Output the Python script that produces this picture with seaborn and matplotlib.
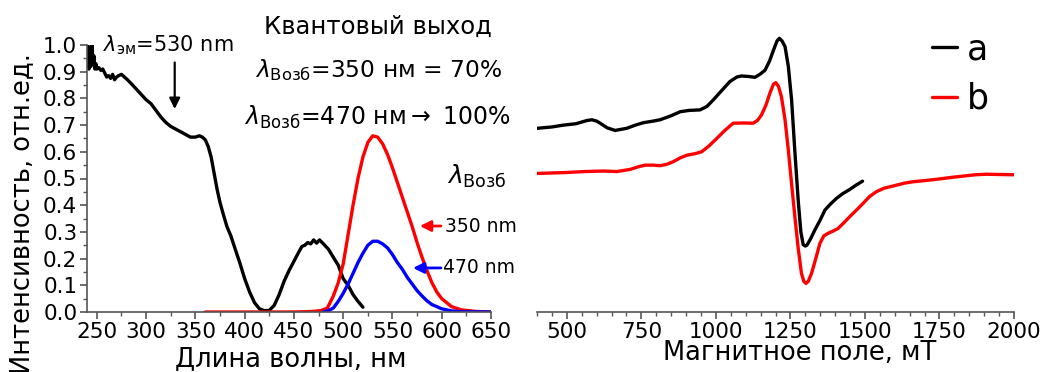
import numpy as np
import pandas as pd
import seaborn as sns
import matplotlib
matplotlib.use("Agg")
import matplotlib.pyplot as plt
from matplotlib.ticker import MultipleLocator

# ---------------- data: left panel (excitation / emission) ----------------
wl_exc = [241, 242, 243, 244, 245, 246, 247, 248, 249, 250, 252, 254, 256, 258, 260,
          262, 264, 266, 268, 270, 272, 275, 278, 281, 285, 290, 295, 300, 305, 310,
          315, 320, 325, 330, 335, 340, 345, 350, 354, 357, 360, 363, 366, 369, 372,
          375, 378, 382, 386, 390, 395, 400, 405, 410, 415, 420, 425, 430, 435, 440,
          445, 450, 455, 458, 461, 464, 467, 470, 473, 476, 480, 485, 490, 495, 500,
          505, 510, 515, 520]
int_exc = [1.0, 0.91, 0.99, 0.92, 1.0, 0.93, 0.96, 0.91, 0.93, 0.91, 0.915, 0.905, 0.91,
           0.895, 0.88, 0.885, 0.875, 0.89, 0.87, 0.88, 0.885, 0.89, 0.88, 0.87, 0.855,
           0.835, 0.815, 0.795, 0.78, 0.755, 0.73, 0.71, 0.695, 0.685, 0.675, 0.665,
           0.655, 0.655, 0.66, 0.655, 0.645, 0.62, 0.58, 0.52, 0.46, 0.41, 0.37, 0.32,
           0.285, 0.24, 0.185, 0.125, 0.075, 0.035, 0.012, 0.005, 0.006, 0.025, 0.065,
           0.115, 0.155, 0.19, 0.225, 0.245, 0.25, 0.26, 0.255, 0.27, 0.258, 0.27, 0.255,
           0.235, 0.205, 0.175, 0.125, 0.10, 0.065, 0.04, 0.018]

wl_em350 = [360, 400, 450, 470, 478, 484, 490, 495, 500, 505, 510, 515, 520, 525, 530,
            535, 540, 545, 550, 555, 560, 565, 570, 575, 580, 585, 590, 595, 600, 610,
            620, 635, 650]
int_em350 = [0.0, 0.0, 0.0, 0.002, 0.006, 0.015, 0.06, 0.11, 0.18, 0.29, 0.40, 0.50,
             0.58, 0.635, 0.66, 0.655, 0.63, 0.59, 0.54, 0.485, 0.43, 0.375, 0.32, 0.26,
             0.205, 0.155, 0.11, 0.075, 0.05, 0.02, 0.008, 0.002, 0.0]

wl_em470 = [480, 485, 490, 495, 500, 505, 510, 515, 520, 525, 530, 535, 540, 545, 550,
            555, 560, 565, 570, 575, 580, 585, 590, 600, 610, 620, 650]
int_em470 = [0.0, 0.005, 0.015, 0.04, 0.07, 0.105, 0.145, 0.185, 0.22, 0.25, 0.265,
             0.265, 0.255, 0.24, 0.215, 0.185, 0.16, 0.13, 0.105, 0.08, 0.06, 0.042,
             0.028, 0.012, 0.004, 0.001, 0.0]

# ---------------- data: right panel (EPR) ----------------
field_a = [400, 450, 489, 530, 567, 584, 600, 612, 635, 662, 701, 730, 757, 790, 813,
           850, 880, 910, 947, 970, 991, 1020, 1047, 1070, 1086, 1110, 1131, 1150, 1165,
           1180, 1193, 1205, 1213, 1222, 1232, 1243, 1254, 1265, 1276, 1285, 1293, 1300,
           1306, 1318, 1332, 1350, 1366, 1385, 1405, 1425, 1449, 1470, 1492]
sig_a = [0.688, 0.693, 0.70, 0.705, 0.717, 0.72, 0.715, 0.707, 0.69, 0.68, 0.688, 0.70,
         0.709, 0.715, 0.72, 0.735, 0.75, 0.755, 0.757, 0.77, 0.794, 0.83, 0.863, 0.88,
         0.884, 0.882, 0.879, 0.892, 0.906, 0.94, 0.98, 1.015, 1.025, 1.015, 0.994, 0.92,
         0.794, 0.60, 0.42, 0.30, 0.252, 0.247, 0.251, 0.275, 0.307, 0.345, 0.382, 0.405,
         0.426, 0.443, 0.459, 0.475, 0.49]

field_b = [400, 489, 560, 623, 668, 712, 740, 763, 790, 813, 835, 857, 880, 902, 930,
           952, 975, 1003, 1030, 1058, 1090, 1125, 1140, 1153, 1168, 1181, 1193, 1201,
           1210, 1220, 1232, 1243, 1254, 1265, 1276, 1287, 1295, 1302, 1310, 1321, 1335,
           1349, 1362, 1377, 1393, 1410, 1430, 1449, 1470, 1494, 1515, 1539, 1565, 1595,
           1630, 1662, 1700, 1740, 1790, 1829, 1870, 1907, 1950, 2000]
sig_b = [0.519, 0.522, 0.526, 0.528, 0.526, 0.534, 0.544, 0.55, 0.55, 0.548, 0.553,
         0.563, 0.577, 0.587, 0.593, 0.60, 0.62, 0.65, 0.68, 0.707, 0.708, 0.707, 0.718,
         0.738, 0.775, 0.819, 0.853, 0.859, 0.845, 0.806, 0.72, 0.607, 0.48, 0.357, 0.24,
         0.145, 0.115, 0.107, 0.115, 0.145, 0.20, 0.257, 0.285, 0.295, 0.303, 0.313,
         0.335, 0.357, 0.38, 0.407, 0.432, 0.451, 0.464, 0.472, 0.482, 0.488, 0.492,
         0.497, 0.504, 0.509, 0.514, 0.516, 0.515, 0.514]

left_xticks = [250, 300, 350, 400, 450, 500, 550, 600, 650]
left_yticks = [0.0, 0.1, 0.2, 0.3, 0.4, 0.5, 0.6, 0.7, 0.8, 0.9, 1.0]
right_xticks = [500, 750, 1000, 1250, 1500, 1750, 2000]

# ---------------- styling ----------------
sns.set_theme(style="ticks")
plt.rcParams['font.family'] = ['DejaVu Sans']
plt.rcParams['mathtext.fontset'] = 'dejavusans'
plt.rcParams['text.color'] = 'black'
plt.rcParams['axes.labelcolor'] = 'black'
plt.rcParams['xtick.labelcolor'] = 'black'
plt.rcParams['ytick.labelcolor'] = 'black'

W, H = 1048, 372
fig = plt.figure(figsize=(W / 100, H / 100), dpi=100)

# pixel geometry
y0_px, y1_px = 312, 45          # y=0 and y=1.0
unit_px = y0_px - y1_px
axL = fig.add_axes([87 / W, 1 - y0_px / H, (491 - 87) / W, unit_px / H])
axR = fig.add_axes([537 / W, 1 - y0_px / H, (1014 - 537) / W, 1.1 * unit_px / H])

LW = 2.4
sns.lineplot(x=wl_exc, y=int_exc, ax=axL, color='black', lw=LW, sort=False, estimator=None)
sns.lineplot(x=wl_em350, y=int_em350, ax=axL, color='#ff0000', lw=LW, sort=False, estimator=None)
sns.lineplot(x=wl_em470, y=int_em470, ax=axL, color='#0000ff', lw=LW, sort=False, estimator=None)

axL.set_xlim(240, 650)
axL.set_ylim(0, 1.0)
axL.set_xticks(left_xticks)
axL.set_yticks(left_yticks)
axL.set_xticklabels([str(v) for v in left_xticks])
axL.set_yticklabels([f"{v:.1f}" for v in left_yticks])
axL.xaxis.set_minor_locator(MultipleLocator(25))
axL.yaxis.set_minor_locator(MultipleLocator(0.05))
for s in ['top', 'right']:
    axL.spines[s].set_visible(False)
for s in ['left', 'bottom']:
    axL.spines[s].set_color('#555555')
    axL.spines[s].set_linewidth(1.2)
axL.tick_params(axis='both', which='major', length=5, width=1.2, color='#555555',
                labelsize=15.5, pad=2)
axL.tick_params(axis='both', which='minor', length=3, width=1.0, color='#555555')

axL.set_xlabel("Длина волны, нм", fontsize=18.5)
axL.xaxis.set_label_coords(0.505, -0.175)
axL.xaxis.label.set_verticalalignment('center')
axL.set_ylabel("Интенсивность, отн.ед.", fontsize=18.5)
axL.yaxis.set_label_coords(-0.16, 0.37)
axL.yaxis.label.set_verticalalignment('center')

# annotations left
axL.text(256, 1.0, r"$\lambda_{\mathregular{эм}}$=530 nm", fontsize=15, va='center', ha='left',
         clip_on=False)
axL.annotate("", xy=(329, 0.75), xytext=(329, 0.945),
             arrowprops=dict(arrowstyle='-|>', color='black', lw=1.6, mutation_scale=16))
axL.text(535, 1.067, "Квантовый выход", fontsize=17.5, ha='center', va='center', clip_on=False)
axL.text(536, 0.905, r"$\lambda_{\mathregular{Возб}}$=350 нм = 70%", fontsize=16.8,
         ha='center', va='center')
axL.text(535, 0.73, r"$\lambda_{\mathregular{Возб}}$=470 нм$\rightarrow$ 100%", fontsize=17,
         ha='center', va='center')
axL.text(605, 0.506, r"$\lambda_{\mathregular{Возб}}$", fontsize=18, ha='left', va='center',
         clip_on=False)
axL.annotate("", xy=(575, 0.322), xytext=(602, 0.322),
             arrowprops=dict(arrowstyle='-|>', color='#ff0000', lw=2, mutation_scale=16))
axL.text(603, 0.322, "350 nm", fontsize=13.5, ha='left', va='center', clip_on=False)
axL.annotate("", xy=(568, 0.165), xytext=(602, 0.165),
             arrowprops=dict(arrowstyle='-|>', color='#0000ff', lw=2, mutation_scale=16))
axL.text(601, 0.165, "470 nm", fontsize=13.5, ha='left', va='center', clip_on=False)

# ---------------- right panel ----------------
sns.lineplot(x=field_a, y=sig_a, ax=axR, color='black', lw=LW, sort=False, estimator=None, label='a')
sns.lineplot(x=field_b, y=sig_b, ax=axR, color='#ff0000', lw=LW, sort=False, estimator=None, label='b')
axR.set_xlim(400, 2000)
axR.set_ylim(0, 1.1)
axR.set_xticks(right_xticks)
axR.set_xticklabels([str(v) for v in right_xticks])
axR.xaxis.set_minor_locator(MultipleLocator(50))
axR.set_yticks([])
for s in ['top', 'right', 'left']:
    axR.spines[s].set_visible(False)
axR.spines['bottom'].set_color('#555555')
axR.spines['bottom'].set_linewidth(1.2)
axR.tick_params(axis='x', which='major', length=5, width=1.2, color='#555555',
                labelsize=15.5, pad=2)
axR.tick_params(axis='x', which='minor', length=3, width=1.0, color='#555555')
axR.set_xlabel("Магнитное поле, мТ", fontsize=18.5)
axR.xaxis.set_label_coords(0.551, -0.14)
axR.xaxis.label.set_verticalalignment('center')
axR.set_ylabel("")

leg = axR.legend(loc='upper left', bbox_to_anchor=(0.80, 1.0), frameon=False,
                 fontsize=25, handlelength=0.7, handletextpad=0.3, labelspacing=0.45,
                 borderaxespad=0)
for t in leg.get_texts():
    t.set_color('black')

fig.savefig("out.png", dpi=100)
